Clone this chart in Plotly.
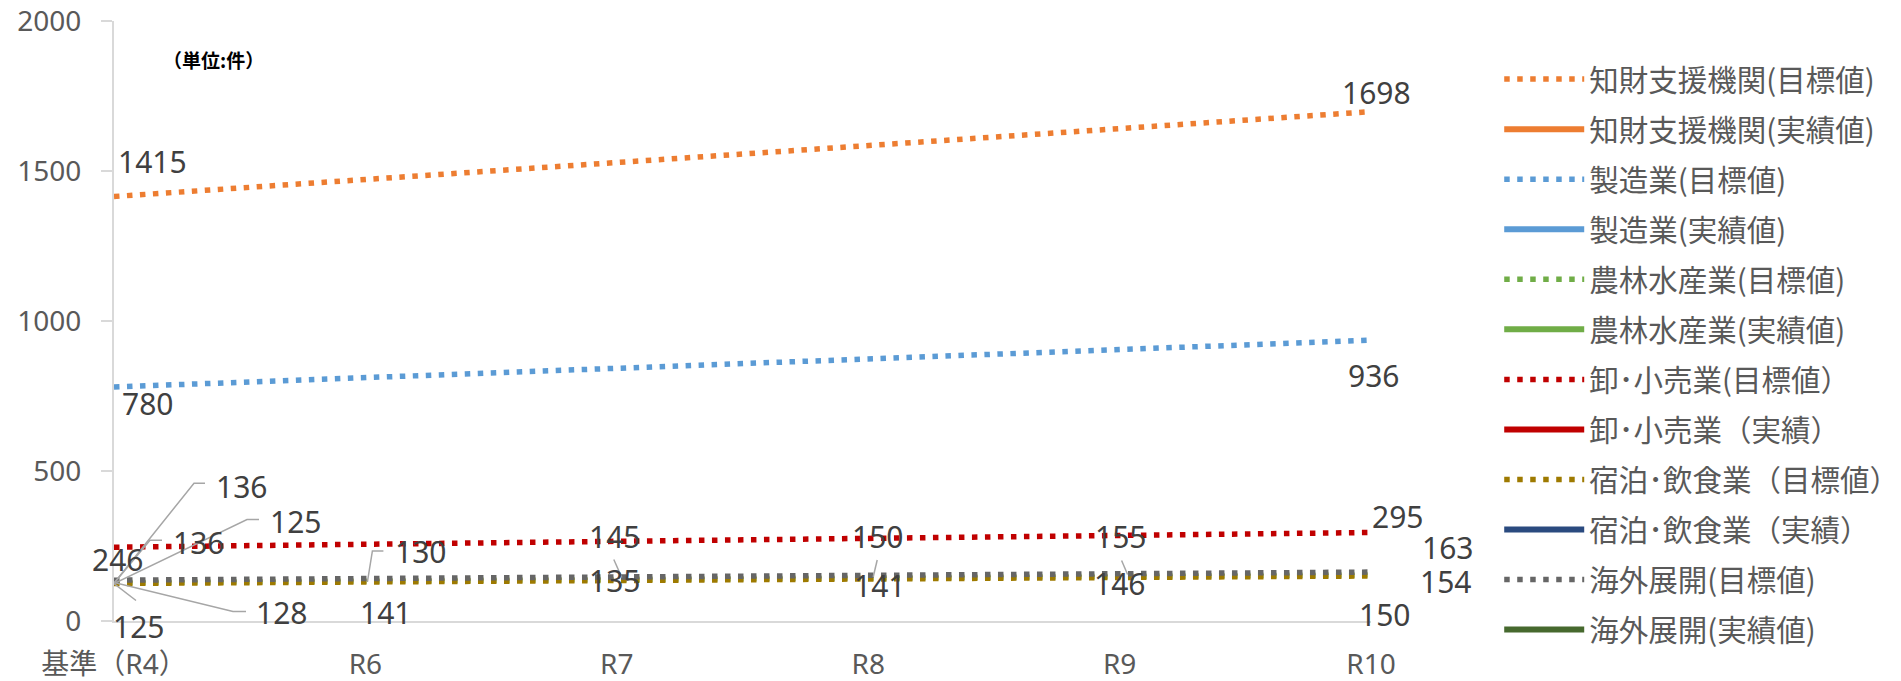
import plotly.graph_objects as go

# ---- data -------------------------------------------------------------
categories = ["基準（R4）", "R6", "R7", "R8", "R9", "R10"]

chizai_target = [1415, None, None, None, None, 1698]
chizai_actual = [None, None, None, None, None, None]
seizo_target = [780, None, None, None, None, 936]
seizo_actual = [None, None, None, None, None, None]
norin_target = [128, None, None, None, None, 154]
norin_actual = [None, None, None, None, None, None]
oroshi_target = [246, None, None, None, None, 295]
oroshi_actual = [None, None, None, None, None, None]
shukuhaku_target = [125, 130, 135, 141, 146, 150]
shukuhaku_actual = [125, None, None, None, None, None]
kaigai_target = [136, 141, 145, 150, 155, 163]
kaigai_actual = [136, None, None, None, None, None]

y_ticks = [0, 500, 1000, 1500, 2000]

# ---- styling ------------------------------------------------------------
DOT = "5.5px,7.5px"
series = [
    ("知財支援機関(目標値)", chizai_target, "#ED7D31", DOT),
    ("知財支援機関(実績値)", chizai_actual, "#ED7D31", "solid"),
    ("製造業(目標値)", seizo_target, "#5B9BD5", DOT),
    ("製造業(実績値)", seizo_actual, "#5B9BD5", "solid"),
    ("農林水産業(目標値)", norin_target, "#70AD47", DOT),
    ("農林水産業(実績値)", norin_actual, "#70AD47", "solid"),
    ("卸･小売業(目標値）", oroshi_target, "#C00000", DOT),
    ("卸･小売業（実績）", oroshi_actual, "#C00000", "solid"),
    ("宿泊･飲食業（目標値）", shukuhaku_target, "#9E7A00", DOT),
    ("宿泊･飲食業（実績）", shukuhaku_actual, "#2A4A7F", "solid"),
    ("海外展開(目標値)", kaigai_target, "#666666", DOT),
    ("海外展開(実績値)", kaigai_actual, "#46692E", "solid"),
]

fig = go.Figure()
for i, (name, ys, color, dash) in enumerate(series):
    fig.add_trace(go.Scatter(
        x=categories, y=ys, name=name, mode="lines",
        connectgaps=True, legendgroup=f"g{i}",
        line=dict(color=color, width=5.5 if dash != "solid" else 6, dash=dash),
        hoverinfo="skip",
    ))

# ---- data labels (series data, point index, x/y pixel shift, leader path) --
LABEL_FONT = dict(family="Noto Sans, Open Sans, sans-serif", size=30, color="#404040")
labels = [
    (chizai_target, 0, 38, 35, None),
    (chizai_target, 5, 5, 19, None),
    (seizo_target, 0, 33, -16, None),
    (seizo_target, 5, 2, -35, None),
    (oroshi_target, 0, 3, -12, None),
    (oroshi_target, 5, 26, 16, None),
    (shukuhaku_target, 0, 24, -43, "M0,0 L22,-17"),
    (shukuhaku_actual, 0, 181, 62, "M0,0 L133,64 L145,64"),
    (kaigai_target, 0, 127, 94, "M0,-3 L80,97 L91,97"),
    (kaigai_actual, 0, 84, 38, "M0,-3 L36,40 L48,40"),
    (norin_target, 0, 167, -30, "M0,0 L119,-29 L132,-29"),
    (shukuhaku_target, 1, 55, 31, "M2,0 L7,31 L18,31"),
    (kaigai_target, 1, 20, -34, None),
    (kaigai_target, 2, -2, 41, "M5,0 L-3,18"),
    (shukuhaku_target, 2, -2, 0, None),
    (kaigai_target, 3, 9, 40, "M5,-1 L9,16"),
    (shukuhaku_target, 3, 11, -7, None),
    (kaigai_target, 4, 1, 38, "M8,0 L2,14"),
    (shukuhaku_target, 4, 0, -6, None),
    (kaigai_target, 5, 76, 25, "M9,0 L29,24 L41,24"),
    (norin_target, 5, 74, -7, "M9,0 L29,-3 L39,-3"),
    (shukuhaku_target, 5, 13, -38, None),
]
for ys, idx, dx, dy, leader in labels:
    fig.add_annotation(
        x=categories[idx], y=ys[idx], xref="x", yref="y",
        text=str(ys[idx]), showarrow=False, xshift=dx, yshift=dy,
        xanchor="center", yanchor="middle", font=LABEL_FONT,
    )
    if leader:
        fig.add_shape(
            type="path", xref="x", yref="y",
            xsizemode="pixel", ysizemode="pixel",
            xanchor=categories[idx], yanchor=ys[idx], path=leader,
            line=dict(color="#A6A6A6", width=1.5), layer="above",
        )

# unit note
fig.add_annotation(
    x=0.0788, y=0.935, xref="paper", yref="paper", showarrow=False,
    text="<b>（単位:件）</b>", xanchor="center", yanchor="middle",
    font=dict(family="Noto Sans CJK JP", size=19, color="#000000"),
)

fig.update_layout(
    width=1901, height=681,
    margin=dict(l=114, r=530, t=21, b=60, autoexpand=False),
    paper_bgcolor="white", plot_bgcolor="white",
    showlegend=True,
    legend=dict(
        x=1.102, y=0.946, xanchor="left", yanchor="top",
        font=dict(family="Noto Sans CJK JP", size=29.5, color="#595959"),
        traceorder="grouped", tracegroupgap=8.7, itemwidth=80,
        bgcolor="rgba(0,0,0,0)", maxheight=681,
    ),
    xaxis=dict(
        type="category", range=[0, 5], showgrid=False, zeroline=False,
        showline=True, linecolor="#D9D9D9", linewidth=2, ticks="",
        tickfont=dict(family="Noto Sans, Noto Sans CJK JP, sans-serif", size=28, color="#595959"),
        ticklabelstandoff=17, automargin=False,
    ),
    yaxis=dict(
        range=[0, 2000], tickvals=y_ticks, showgrid=False, zeroline=False,
        showline=True, linecolor="#D9D9D9", linewidth=2,
        ticks="outside", ticklen=11, tickcolor="#D9D9D9", tickwidth=2,
        tickfont=dict(family="Noto Sans, sans-serif", size=28, color="#595959"),
        ticklabelstandoff=14, automargin=False,
    ),
)

fig.write_html("out.html")
